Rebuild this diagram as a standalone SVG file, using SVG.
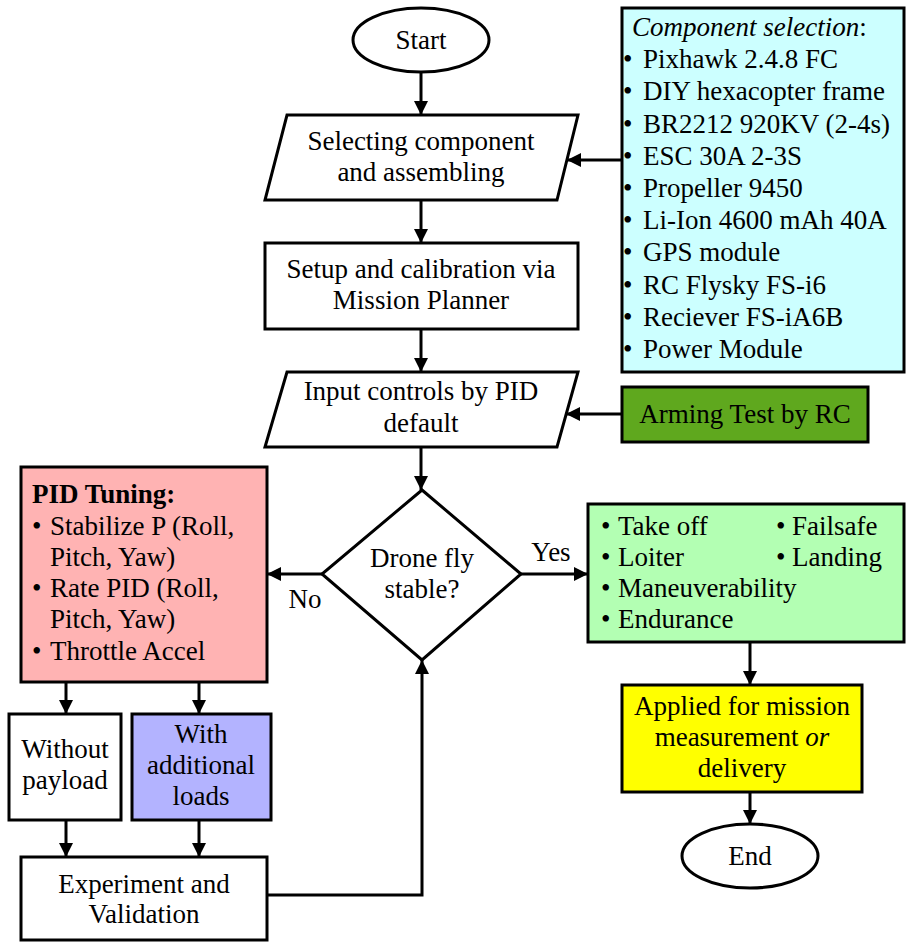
<svg xmlns="http://www.w3.org/2000/svg" width="907" height="942" viewBox="0 0 907 942">
<style>
  .s { stroke: #000; stroke-width: 3; }
  .t { font-family: "Liberation Serif", "Times New Roman", serif; font-size: 27px; fill: #000; }
  .c { text-anchor: middle; }
  .b { font-weight: bold; }
  .i { font-style: italic; }
  .ln { fill: none; stroke: #000; stroke-width: 3; marker-end: url(#ah); }
</style>
<defs>
  <marker id="ah" markerUnits="userSpaceOnUse" markerWidth="14" markerHeight="14" refX="14" refY="7" orient="auto">
    <path d="M0,0 L14,7 L0,14 z" fill="#000"/>
  </marker>
</defs>
<rect width="907" height="942" fill="#fff"/>

<g id="start">
  <ellipse cx="421" cy="40" rx="68" ry="32" fill="#fff" class="s"/>
  <text x="421" y="49" class="t c">Start</text>
</g>

<g id="select">
  <polygon points="287,115 578,115 557,200 265,200" fill="#fff" class="s"/>
  <text x="421" y="150" class="t c">Selecting component</text>
  <text x="421" y="181" class="t c">and assembling</text>
</g>

<g id="setup">
  <rect x="265" y="243" width="313" height="86" fill="#fff" class="s"/>
  <text x="421" y="278" class="t c">Setup and calibration via</text>
  <text x="421" y="309" class="t c">Mission Planner</text>
</g>

<g id="input">
  <polygon points="287,372 578,372 557,447 265,447" fill="#fff" class="s"/>
  <text x="421" y="400" class="t c">Input controls by PID</text>
  <text x="421" y="432" class="t c">default</text>
</g>

<g id="components">
  <rect x="622" y="8" width="282" height="364" fill="#ccffff" class="s"/>
  <text x="632" y="36" class="t"><tspan class="i">Component selection</tspan>:</text>
  <g class="t">
    <text x="623" y="68">•</text><text x="643" y="68">Pixhawk 2.4.8 FC</text>
    <text x="623" y="100">•</text><text x="643" y="100">DIY hexacopter frame</text>
    <text x="623" y="133">•</text><text x="643" y="133">BR2212 920KV (2-4s)</text>
    <text x="623" y="165">•</text><text x="643" y="165">ESC 30A 2-3S</text>
    <text x="623" y="197">•</text><text x="643" y="197">Propeller 9450</text>
    <text x="623" y="229">•</text><text x="643" y="229">Li-Ion 4600 mAh 40A</text>
    <text x="623" y="261">•</text><text x="643" y="261">GPS module</text>
    <text x="623" y="294">•</text><text x="643" y="294">RC Flysky FS-i6</text>
    <text x="623" y="326">•</text><text x="643" y="326">Reciever FS-iA6B</text>
    <text x="623" y="358">•</text><text x="643" y="358">Power Module</text>
  </g>
</g>

<g id="arming">
  <rect x="622" y="387" width="246" height="55" fill="#5fa81e" class="s"/>
  <text x="745" y="423" class="t c">Arming Test by RC</text>
</g>

<g id="decision">
  <polygon points="422,490 521,574 422,660 322,574" fill="#fff" class="s"/>
  <text x="422" y="567" class="t c">Drone fly</text>
  <text x="422" y="598" class="t c">stable?</text>
</g>

<g id="pid">
  <rect x="21" y="467" width="246" height="215" fill="#ffb3b3" class="s"/>
  <text x="32" y="503" class="t b">PID Tuning:</text>
  <g class="t">
    <text x="32" y="535">•</text><text x="50" y="535">Stabilize P (Roll,</text>
    <text x="50" y="566">Pitch, Yaw)</text>
    <text x="32" y="597">•</text><text x="50" y="597">Rate PID (Roll,</text>
    <text x="50" y="628">Pitch, Yaw)</text>
    <text x="32" y="660">•</text><text x="50" y="660">Throttle Accel</text>
  </g>
</g>

<g id="without">
  <rect x="9" y="714" width="112" height="106" fill="#fff" class="s"/>
  <text x="65" y="758" class="t c">Without</text>
  <text x="65" y="789" class="t c">payload</text>
</g>

<g id="with">
  <rect x="132" y="714" width="139" height="106" fill="#b3b3ff" class="s"/>
  <text x="201" y="743" class="t c">With</text>
  <text x="201" y="774" class="t c">additional</text>
  <text x="201" y="805" class="t c">loads</text>
</g>

<g id="experiment">
  <rect x="21" y="857" width="246" height="83" fill="#fff" class="s"/>
  <text x="144" y="893" class="t c">Experiment and</text>
  <text x="144" y="923" class="t c">Validation</text>
</g>

<g id="tests">
  <rect x="588" y="504" width="316" height="138" fill="#b3ffb3" class="s"/>
  <g class="t">
    <text x="601" y="535">•</text><text x="618" y="535">Take off</text>
    <text x="776" y="535">•</text><text x="792" y="535">Failsafe</text>
    <text x="601" y="566">•</text><text x="618" y="566">Loiter</text>
    <text x="776" y="566">•</text><text x="792" y="566">Landing</text>
    <text x="601" y="597">•</text><text x="618" y="597">Maneuverability</text>
    <text x="601" y="628">•</text><text x="618" y="628">Endurance</text>
  </g>
</g>

<g id="applied">
  <rect x="622" y="685" width="240" height="107" fill="#ffff00" class="s"/>
  <text x="742" y="715" class="t c">Applied for mission</text>
  <text x="742" y="746" class="t c">measurement <tspan class="i">or</tspan></text>
  <text x="742" y="777" class="t c">delivery</text>
</g>

<g id="end">
  <ellipse cx="750" cy="856" rx="68" ry="32" fill="#fff" class="s"/>
  <text x="750" y="865" class="t c">End</text>
</g>

<g id="connectors">
  <line x1="421" y1="73" x2="421" y2="115" class="ln"/>
  <line x1="421" y1="200" x2="421" y2="243" class="ln"/>
  <line x1="421" y1="329" x2="421" y2="372" class="ln"/>
  <line x1="421" y1="447" x2="421" y2="490" class="ln"/>
  <line x1="622" y1="160" x2="567" y2="160" class="ln"/>
  <line x1="622" y1="414" x2="566" y2="414" class="ln"/>
  <line x1="322" y1="574" x2="267" y2="574" class="ln"/>
  <line x1="521" y1="574" x2="588" y2="574" class="ln"/>
  <line x1="66" y1="682" x2="66" y2="714" class="ln"/>
  <line x1="199" y1="682" x2="199" y2="714" class="ln"/>
  <line x1="66" y1="820" x2="66" y2="857" class="ln"/>
  <line x1="199" y1="820" x2="199" y2="857" class="ln"/>
  <polyline points="267,895 422,895 422,660" class="ln"/>
  <line x1="750" y1="642" x2="750" y2="685" class="ln"/>
  <line x1="750" y1="792" x2="750" y2="824" class="ln"/>
  <text x="551" y="561" class="t c">Yes</text>
  <text x="305" y="608" class="t c">No</text>
</g>
</svg>
